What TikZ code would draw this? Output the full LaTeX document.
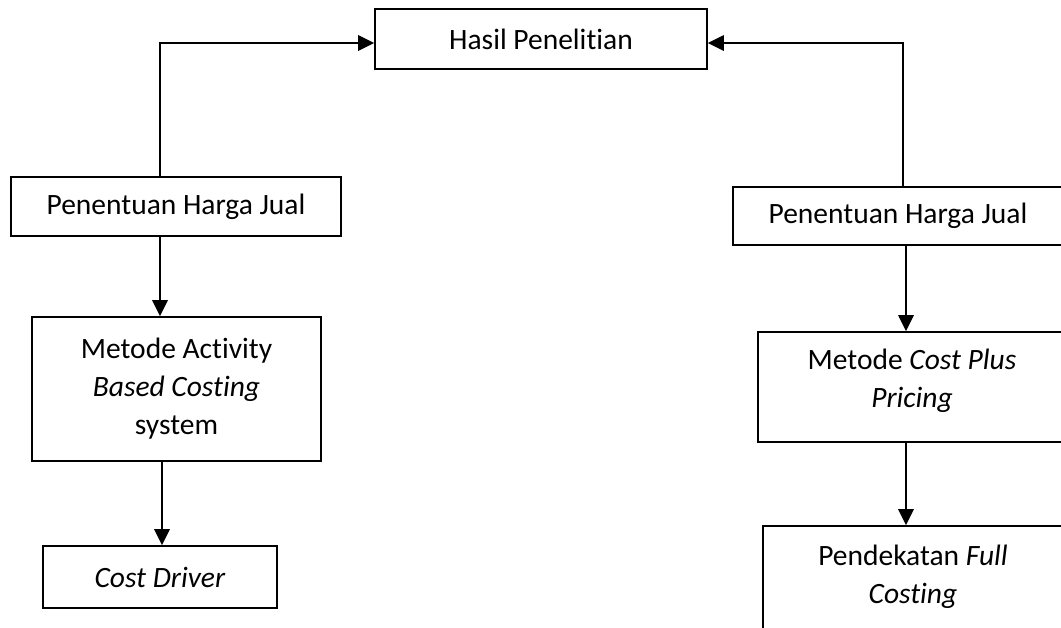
\documentclass[tikz,border=0pt]{standalone}
\usepackage{fontspec}
\setmainfont[Ligatures=NoCommon]{Carlito}
\usetikzlibrary{arrows.meta}
\begin{document}
\begin{tikzpicture}[x=1pt,y=-1pt,
  box/.style={draw, line width=1.6pt, inner sep=0pt, align=center,
    font=\fontsize{29.5}{38}\selectfont},
  lab/.style={align=center, inner sep=0pt, font=\fontsize{29.5}{38}\selectfont},
  arr/.style={line width=2.8pt, -{Triangle[length=16pt,width=15pt]}}]
\useasboundingbox (0,0) rectangle (1061,627);
\clip (0,0) rectangle (1061,627);
% top
\node[box, minimum width=332pt, minimum height=60pt] (hasil) at (541,39) {Hasil Penelitian};
% left column
\node[box, minimum width=330pt, minimum height=59pt] (L1) at (176,206.5) {Penentuan Harga Jual};
\node[box, minimum width=289pt, minimum height=144pt] (L2) at (176.5,389)
  {Metode Activity\\\textit{Based Costing}\\system};
\node[box, minimum width=234pt, minimum height=62pt] (L3) at (160,577) {\textit{Cost Driver}};
% right column
\node[box, minimum width=330pt, minimum height=58pt] (R1) at (898,216) {Penentuan Harga Jual};
\node[box, minimum width=308pt, minimum height=110pt,
  label={[lab, yshift=6pt]center:Metode \textit{Cost Plus}\\\textit{Pricing}}] (R2) at (912,387) {};
\node[box, minimum width=300pt, minimum height=120pt,
  label={[lab, yshift=9pt]center:Pendekatan \textit{Full}\\\textit{Costing}}] (R3) at (913,586) {};
% connectors
\draw[arr] ([xshift=-16pt]L1.north) |- ([yshift=-4pt]hasil.west);
\draw[arr] ([xshift=5pt]R1.north) |- ([yshift=-4pt]hasil.east);
\draw[arr] ([xshift=-16pt]L1.south) -- ([xshift=-16pt]L1.south |- L2.north);
\draw[arr] ([xshift=2pt]L3.north |- L2.south) -- ([xshift=2pt]L3.north);
\draw[arr] ([xshift=8pt]R1.south) -- ([xshift=8pt]R1.south |- R2.north);
\draw[arr] ([xshift=8pt]R1.south |- R2.south) -- ([xshift=8pt]R1.south |- R3.north);
\end{tikzpicture}
\end{document}
